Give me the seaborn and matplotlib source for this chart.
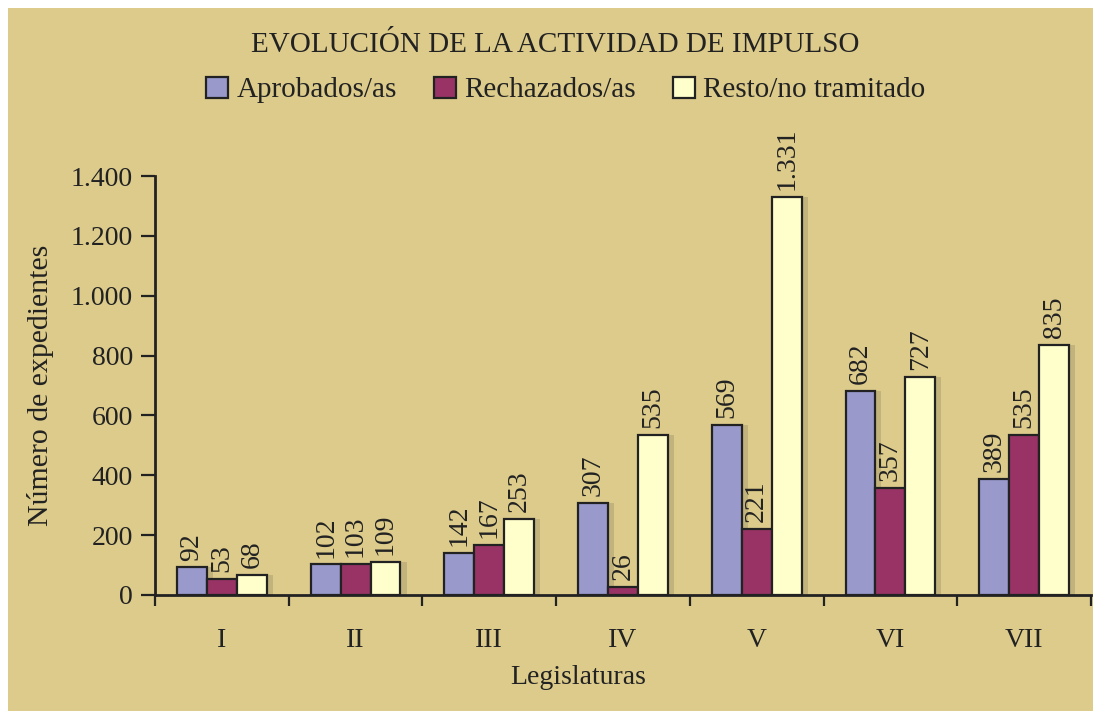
import matplotlib
matplotlib.use('Agg')
import matplotlib.pyplot as plt
from matplotlib.patches import Rectangle
from matplotlib.ticker import FuncFormatter, FixedLocator
import pandas as pd
import seaborn as sns

legislaturas = ['I', 'II', 'III', 'IV', 'V', 'VI', 'VII']
aprobados = [92, 102, 142, 307, 569, 682, 389]
rechazados = [53, 103, 167, 26, 221, 357, 535]
resto = [68, 109, 253, 535, 1331, 727, 835]
series = ['Aprobados/as', 'Rechazados/as', 'Resto/no tramitado']
colores = ['#9999cc', '#993366', '#ffffcc']

BG = '#dccb8b'
SHADOW = '#c2b37c'
INK = '#222222'


def miles(v):
    return f'{int(v):,}'.replace(',', '.')


df = pd.DataFrame({
    'legislatura': legislaturas * 3,
    'serie': [s for s in series for _ in legislaturas],
    'valor': aprobados + rechazados + resto,
})

sns.set_style('white')
plt.rcParams['font.family'] = ['Liberation Serif', 'DejaVu Serif']
plt.rcParams['text.color'] = INK

fig = plt.figure(figsize=(10.93, 7.11), dpi=100, facecolor='white')
fig.patches.append(Rectangle((8 / 1093, -0.1), 1.2, 1.1 - 8 / 711, transform=fig.transFigure,
                             facecolor=BG, edgecolor='none', zorder=-10))
ax = fig.add_axes([155 / 1093, 116 / 711, 936 / 1093, 419 / 711])
ax.set_facecolor('none')

sns.barplot(data=df, x='legislatura', y='valor', hue='serie', order=legislaturas,
            hue_order=series, palette=colores, width=0.672, gap=0,
            edgecolor=INK, linewidth=1.6, saturation=1, legend=False, ax=ax, zorder=3)

# shadows + value labels
bars = [p for p in ax.patches if isinstance(p, Rectangle) and p.get_height() > 0]
for p in bars:
    ax.add_patch(Rectangle((p.get_x() + 0.045, 0), p.get_width(), p.get_height(),
                           facecolor=SHADOW, edgecolor='none', zorder=2))
    ax.annotate(miles(p.get_height()), (p.get_x() + p.get_width() / 2, p.get_height()),
                xytext=(0, 5), textcoords='offset points', rotation=90,
                ha='center', va='bottom', fontsize=20, color=INK)

ax.set_xlim(-0.5, len(legislaturas) - 0.5)
ax.set_ylim(0, 1400)
ax.set_yticks(range(0, 1401, 200))
ax.yaxis.set_major_formatter(FuncFormatter(lambda v, _: miles(v)))
ax.tick_params(axis='y', direction='out', length=10, width=1.6, color=INK,
               labelsize=20, labelcolor=INK, pad=6, left=True)
ax.tick_params(axis='x', which='major', length=0, labelsize=20, labelcolor=INK, pad=24)
ax.xaxis.set_minor_locator(FixedLocator([i - 0.5 for i in range(len(legislaturas) + 1)]))
ax.tick_params(axis='x', which='minor', direction='out', length=8, width=1.6,
               color=INK, bottom=True)

for side in ['top', 'right']:
    ax.spines[side].set_visible(False)
for side in ['left', 'bottom']:
    ax.spines[side].set_color(INK)
    ax.spines[side].set_linewidth(2)
    ax.spines[side].set_zorder(5)

ax.set_xlabel('')
ax.set_ylabel('Número de expedientes', fontsize=21.5, color=INK, labelpad=12)
fig.text(578 / 1093, 1 - 678 / 711, 'Legislaturas', ha='center', va='center',
         fontsize=20, color=INK)

fig.text(555 / 1093, 1 - 45 / 711, 'EVOLUCIÓN DE LA ACTIVIDAD DE IMPULSO',
         ha='center', va='center', fontsize=21, color=INK)

handles = [Rectangle((0, 0), 1, 1, facecolor=c, edgecolor=INK, linewidth=1.6) for c in colores]
fig.legend(handles, series, loc='center', bbox_to_anchor=(566 / 1093, 1 - 90 / 711),
           ncol=3, frameon=False, fontsize=21, handlelength=0.75, handleheight=0.75,
           handletextpad=0.3, columnspacing=1.25)

fig.savefig('out.png', dpi=100, facecolor='white')
